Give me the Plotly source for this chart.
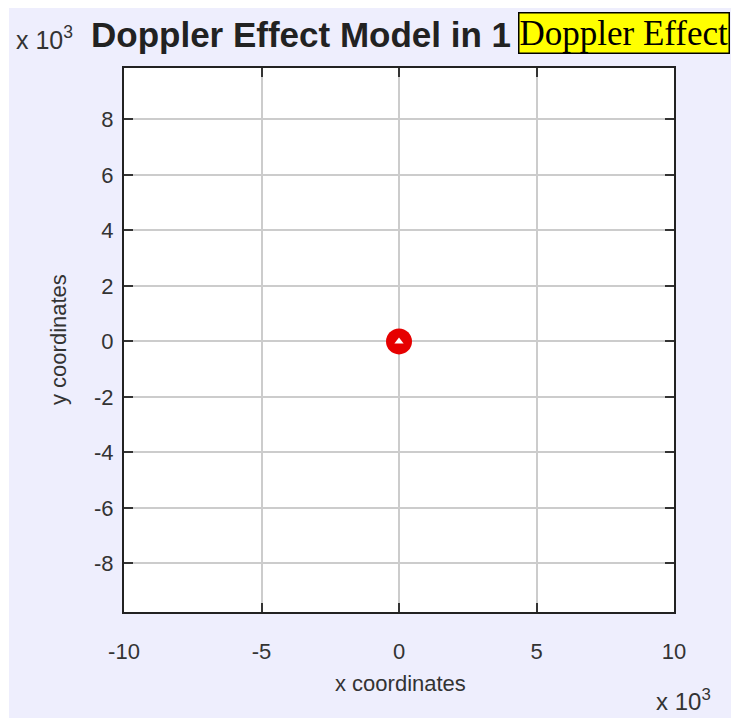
import plotly.graph_objects as go

# Data
source_x = [0]
source_y = [0]
x_tick_vals = [-10, -5, 0, 5, 10]
x_tick_text = ["-10", "-5", "0", "5", "10"]
y_tick_vals = [-8, -6, -4, -2, 0, 2, 4, 6, 8]
y_tick_text = ["-8", "-6", "-4", "-2", "0", "2", "4", "6", "8"]
x_range = [-10, 10]
y_range = [-9.75, 9.85]

LAV = "#EEEEFD"
TXT = "#333333"
FONT = "Liberation Sans, Arial, sans-serif"

fig = go.Figure()
fig.add_trace(go.Scatter(
    x=source_x, y=source_y, mode="markers",
    marker=dict(symbol="circle", size=26, color="#E60000", line=dict(width=0)),
    hoverinfo="skip", showlegend=False))
fig.add_trace(go.Scatter(
    x=source_x, y=source_y, mode="markers",
    marker=dict(symbol="triangle-up", size=8, color="white", line=dict(width=0)),
    hoverinfo="skip", showlegend=False))

axis_common = dict(
    showline=True, linewidth=2, linecolor="#222222", mirror="ticks",
    ticks="inside", ticklen=9, tickwidth=2, tickcolor="#333333",
    showgrid=True, gridcolor="#CCCCCC", gridwidth=1.5, zeroline=False,
    tickfont=dict(family=FONT, size=22, color=TXT),
)

fig.update_layout(
    width=731, height=718,
    margin=dict(l=124, r=57, t=68, b=106),
    paper_bgcolor=LAV, plot_bgcolor="white",
    xaxis=dict(range=x_range, tickvals=x_tick_vals, ticktext=x_tick_text,
               ticklabelstandoff=19, **axis_common),
    yaxis=dict(range=y_range, tickvals=y_tick_vals, ticktext=y_tick_text,
               ticklabelstandoff=4, **axis_common),
    showlegend=False,
)

# positions given in screenshot pixels
def px(x):
    return (x - 124) / 550

def py(y):
    return 1 - (y - 68) / 544

# white page margin strips (left and top)
fig.add_shape(type="rect", xref="paper", yref="paper",
              x0=px(-20), x1=px(9), y0=py(740), y1=py(-20),
              fillcolor="white", line=dict(width=0), layer="below")
fig.add_shape(type="rect", xref="paper", yref="paper",
              x0=px(-20), x1=px(750), y0=py(8), y1=py(-20),
              fillcolor="white", line=dict(width=0), layer="below")

fig.add_annotation(text="x 10<sup>3</sup>", xref="paper", yref="paper",
                   x=px(14), y=py(38), xanchor="left", yanchor="middle",
                   showarrow=False, font=dict(family=FONT, size=25, color=TXT))
fig.add_annotation(text="<b>Doppler Effect Model in 1</b>", xref="paper", yref="paper",
                   x=px(89), y=py(34), xanchor="left", yanchor="middle",
                   showarrow=False, font=dict(family=FONT, size=35, color="#222222"))
fig.add_annotation(text="Doppler Effect", xref="paper", yref="paper",
                   x=px(518), y=py(33), xanchor="left", yanchor="middle",
                   showarrow=False, bgcolor="#FFFF00", bordercolor="black", borderwidth=1.5,
                   borderpad=0,
                   font=dict(family="Liberation Serif, Times New Roman, serif", size=35, color="black"))
fig.add_annotation(text="x coordinates", xref="paper", yref="paper",
                   x=px(400), y=py(683), xanchor="center", yanchor="middle",
                   showarrow=False, font=dict(family=FONT, size=22, color=TXT))
fig.add_annotation(text="x 10<sup>3</sup>", xref="paper", yref="paper",
                   x=px(654), y=py(700), xanchor="left", yanchor="middle",
                   showarrow=False, font=dict(family=FONT, size=24, color=TXT))
fig.add_annotation(text="y coordinates", xref="paper", yref="paper",
                   x=px(58), y=py(340), xanchor="center", yanchor="middle",
                   textangle=-90, showarrow=False, font=dict(family=FONT, size=22, color=TXT))

fig.write_html("out.html",
               config={"displayModeBar": False},
               post_script="document.body.style.margin='0';document.body.style.overflow='hidden';")
